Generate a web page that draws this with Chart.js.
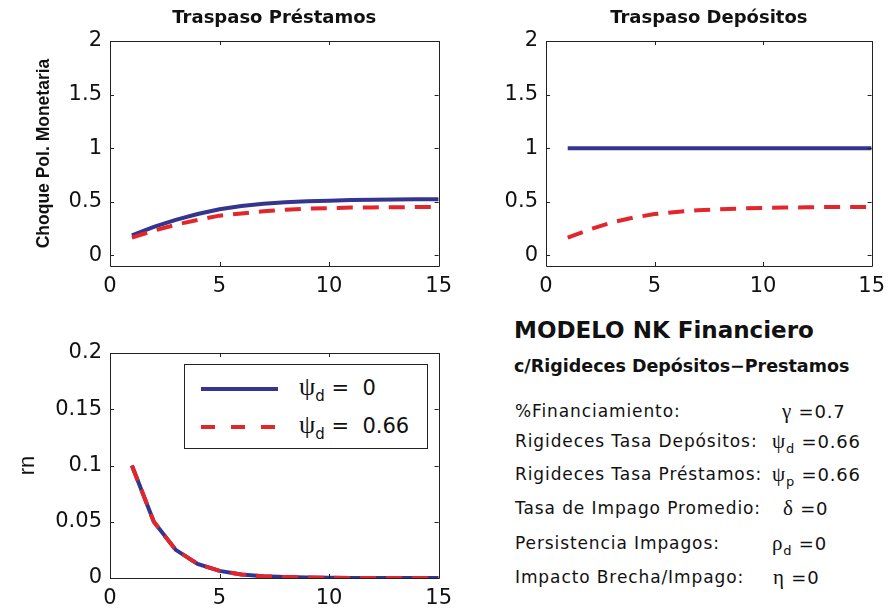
<!DOCTYPE html>
<html>
<head>
<meta charset="utf-8">
<script src="https://cdn.jsdelivr.net/npm/chart.js@4.4.1/dist/chart.umd.min.js"></script>
<style>
    body { margin: 0; background: #fff; }
    #page { position: relative; width: 893px; height: 610px; overflow: hidden; background: #fff; font-family: 'DejaVu Sans', sans-serif; color: #111; }
    .slot { position: absolute; }
    #legend { position: absolute; left: 184px; top: 364px; width: 244px; height: 85px; box-sizing: border-box; border: 1px solid #222; background: #fff; }
    #legend svg { position: absolute; left: 16px; }
    #legend .txt { position: absolute; left: 114px; font-size: 21px; line-height: 24px; white-space: pre; }
    .greek { font-family: 'Liberation Serif', serif; }
    #legend .greek { font-size: 26px; }
    #legend sub { font-size: 15px; vertical-align: -6px; }
    .ptitle { position: absolute; left: 514px; font-weight: bold; white-space: nowrap; }
    .prow { position: absolute; left: 515px; font-size: 17px; letter-spacing: 0.9px; line-height: 22px; white-space: nowrap; }
    .psym { position: absolute; font-size: 18px; letter-spacing: 0.8px; line-height: 22px; white-space: pre; }
    .psym .greek { font-size: 21px; }
    .psym sub { font-size: 13px; vertical-align: -5px; }
</style>
</head>
<body>
<div id="page">
    <div class="slot" style="left:0;top:0"><canvas id="loanChart" width="460" height="300"></canvas></div>
    <div class="slot" style="left:460px;top:0"><canvas id="depositChart" width="433" height="300"></canvas></div>
    <div class="slot" style="left:0;top:300px"><canvas id="rateChart" width="460" height="310"></canvas></div>
    <div id="legend"></div>
    <div id="panel"></div>
</div>
<script>
// periods of the impulse response
const periods = [1, 2, 3, 4, 5, 6, 7, 8, 9, 10, 11, 12, 13, 14, 15];

// Traspaso Préstamos
const loanPsi0 = [0.185, 0.265, 0.33, 0.385, 0.43, 0.46, 0.48, 0.495, 0.505, 0.51, 0.515, 0.518, 0.52, 0.522, 0.523];
const loanPsi066 = [0.165, 0.23, 0.285, 0.33, 0.37, 0.39, 0.41, 0.425, 0.435, 0.44, 0.445, 0.447, 0.449, 0.45, 0.45];

// Traspaso Depósitos
const depositPsi0 = [1, 1, 1, 1, 1, 1, 1, 1, 1, 1, 1, 1, 1, 1, 1];
const depositPsi066 = [0.165, 0.24, 0.305, 0.35, 0.385, 0.405, 0.42, 0.43, 0.437, 0.442, 0.445, 0.448, 0.45, 0.45, 0.452];

// rn
const ratePsi0 = [0.1, 0.05, 0.025, 0.0125, 0.0063, 0.0031, 0.0016, 0.0008, 0.0004, 0.0002, 0.0001, 0.00005, 0.00002, 0.00001, 0];
const ratePsi066 = [0.1, 0.05, 0.025, 0.0125, 0.0063, 0.0031, 0.0016, 0.0008, 0.0004, 0.0002, 0.0001, 0.00005, 0.00002, 0.00001, 0];

const xTicks = [0, 5, 10, 15];
const passTicks = [0, 0.5, 1, 1.5, 2];
const rateTicks = [0, 0.05, 0.1, 0.15, 0.2];

const legendValues = ['0', '0.66'];

const paramLabels = ['%Financiamiento:', 'Rigideces Tasa Depósitos:', 'Rigideces Tasa Préstamos:', 'Tasa de Impago Promedio:', 'Persistencia Impagos:', 'Impacto Brecha/Impago:'];
const paramSymbols = ['γ', 'ψ', 'ψ', 'δ', 'ρ', 'η'];
const paramSubs = ['', 'd', 'p', '', 'd', ''];
const paramValues = ['0.7', '0.66', '0.66', '0', '0', '0'];

// layout of the text panel
const rowCenters = [411, 441, 474, 508, 543, 577];
const symbolLefts = [782, 772, 772, 783, 772, 773];

const BLUE = '#33358f';
const RED = '#e3262b';
const DASH = [16, 10];

Chart.defaults.font.family = "'DejaVu Sans', sans-serif";
Chart.defaults.color = '#111';

function pairs(ys) {
    return periods.map((p, i) => ({ x: p, y: ys[i] }));
}

// matlab style box with inward ticks
const boxPlugin = {
    id: 'matlabBox',
    afterDraw(chart) {
        const { ctx, chartArea: a, scales: { x, y } } = chart;
        ctx.save();
        ctx.strokeStyle = '#222';
        ctx.lineWidth = 1;
        ctx.beginPath();
        ctx.rect(Math.round(a.left) + 0.5, Math.round(a.top) + 0.5, Math.round(a.right - a.left), Math.round(a.bottom - a.top));
        x.ticks.forEach(t => {
            const px = Math.round(x.getPixelForValue(t.value)) + 0.5;
            ctx.moveTo(px, a.bottom); ctx.lineTo(px, a.bottom - 4);
            ctx.moveTo(px, a.top); ctx.lineTo(px, a.top + 4);
        });
        y.ticks.forEach(t => {
            const py = Math.round(y.getPixelForValue(t.value)) + 0.5;
            ctx.moveTo(a.left, py); ctx.lineTo(a.left + 4, py);
            ctx.moveTo(a.right, py); ctx.lineTo(a.right - 4, py);
        });
        ctx.stroke();
        ctx.restore();
    }
};

function irfChart(id, cfg) {
    return new Chart(document.getElementById(id), {
        type: 'line',
        data: {
            datasets: [
                { data: pairs(cfg.solid), borderColor: BLUE, borderWidth: 4, order: 1 },
                { data: pairs(cfg.dashed), borderColor: RED, borderWidth: 4, borderDash: DASH, order: 0 }
            ]
        },
        options: {
            responsive: false,
            animation: false,
            events: [],
            elements: {
                point: { radius: 0 },
                line: { tension: 0, fill: false }
            },
            layout: { padding: cfg.padding },
            plugins: {
                legend: { display: false },
                tooltip: { enabled: false },
                title: cfg.title ? {
                    display: true,
                    text: cfg.title,
                    fullSize: false,
                    color: '#111',
                    font: { size: 18, weight: 'bold' },
                    padding: { top: 8, bottom: 11.4 }
                } : { display: false }
            },
            scales: {
                x: {
                    type: 'linear',
                    min: 0,
                    max: 15,
                    grid: { display: false, drawTicks: false },
                    border: { display: false },
                    afterBuildTicks: s => { s.ticks = xTicks.map(v => ({ value: v })); },
                    afterFit: s => { s.height = cfg.xHeight; },
                    ticks: {
                        padding: 8,
                        color: '#111',
                        font: { size: 21 },
                        maxRotation: 0,
                        autoSkip: false,
                        callback: v => String(v)
                    }
                },
                y: {
                    type: 'linear',
                    min: cfg.yMin,
                    max: cfg.yMax,
                    grid: { display: false, drawTicks: false },
                    border: { display: false },
                    afterBuildTicks: s => { s.ticks = cfg.yTicks.map(v => ({ value: v })); },
                    afterFit: s => { s.width = cfg.yWidth; },
                    ticks: {
                        padding: 8,
                        color: '#111',
                        font: { size: 21 },
                        autoSkip: false,
                        callback: v => String(v)
                    },
                    title: cfg.yTitle || { display: false }
                }
            }
        },
        plugins: [boxPlugin]
    });
}

irfChart('loanChart', {
    solid: loanPsi0,
    dashed: loanPsi066,
    title: 'Traspaso Préstamos',
    yMin: -0.1, yMax: 2, yTicks: passTicks,
    yWidth: 110, xHeight: 34,
    padding: { left: 0, right: 19, top: 0, bottom: 0 },
    yTitle: {
        display: true,
        text: 'Choque Pol. Monetaria',
        color: '#111',
        font: { family: "'Liberation Sans', sans-serif", size: 17.5, weight: 'bold' },
        padding: { top: 34, bottom: 0 }
    }
});

irfChart('depositChart', {
    solid: depositPsi0,
    dashed: depositPsi066,
    title: 'Traspaso Depósitos',
    yMin: -0.1, yMax: 2, yTicks: passTicks,
    yWidth: 86, xHeight: 34,
    padding: { left: 0, right: 16, top: 0, bottom: 0 }
});

irfChart('rateChart', {
    solid: ratePsi0,
    dashed: ratePsi066,
    yMin: 0, yMax: 0.2, yTicks: rateTicks,
    yWidth: 110, xHeight: 32,
    padding: { left: 0, right: 18, top: 53, bottom: 0 },
    yTitle: {
        display: true,
        text: 'rn',
        color: '#111',
        font: { family: "'Liberation Sans', sans-serif", size: 22 },
        padding: { top: 15, bottom: 0 }
    }
});

// legend inside the rn panel
const legend = document.getElementById('legend');
const legendRows = [24, 62];
legendValues.forEach((val, i) => {
    const color = i === 0 ? BLUE : RED;
    const dash = i === 0 ? '' : 'stroke-dasharray="14 16"';
    legend.insertAdjacentHTML('beforeend',
        `<svg width="77" height="8" style="top:${legendRows[i] - 4}px"><line x1="0" y1="4" x2="77" y2="4" stroke="${color}" stroke-width="4" ${dash}/></svg>` +
        `<div class="txt" style="top:${legendRows[i] - 14}px"><span class="greek">ψ</span><sub>d</sub> =  ${val}</div>`);
});

// parameter panel
const panel = document.getElementById('panel');
panel.insertAdjacentHTML('beforeend',
    '<div class="ptitle" style="top:316px;font-size:23px;line-height:28px">MODELO NK Financiero</div>' +
    '<div class="ptitle" style="top:355px;font-size:17.5px;line-height:22px">c/Rigideces Depósitos\u2212Prestamos</div>');
paramLabels.forEach((label, i) => {
    const top = rowCenters[i] - 11;
    const sub = paramSubs[i] ? `<sub>${paramSubs[i]}</sub>` : '';
    panel.insertAdjacentHTML('beforeend',
        `<div class="prow" style="top:${top}px">${label}</div>` +
        `<div class="psym" style="top:${top}px;left:${symbolLefts[i]}px"><span class="greek">${paramSymbols[i]}</span>${sub} =${paramValues[i]}</div>`);
});
</script>
</body>
</html>
